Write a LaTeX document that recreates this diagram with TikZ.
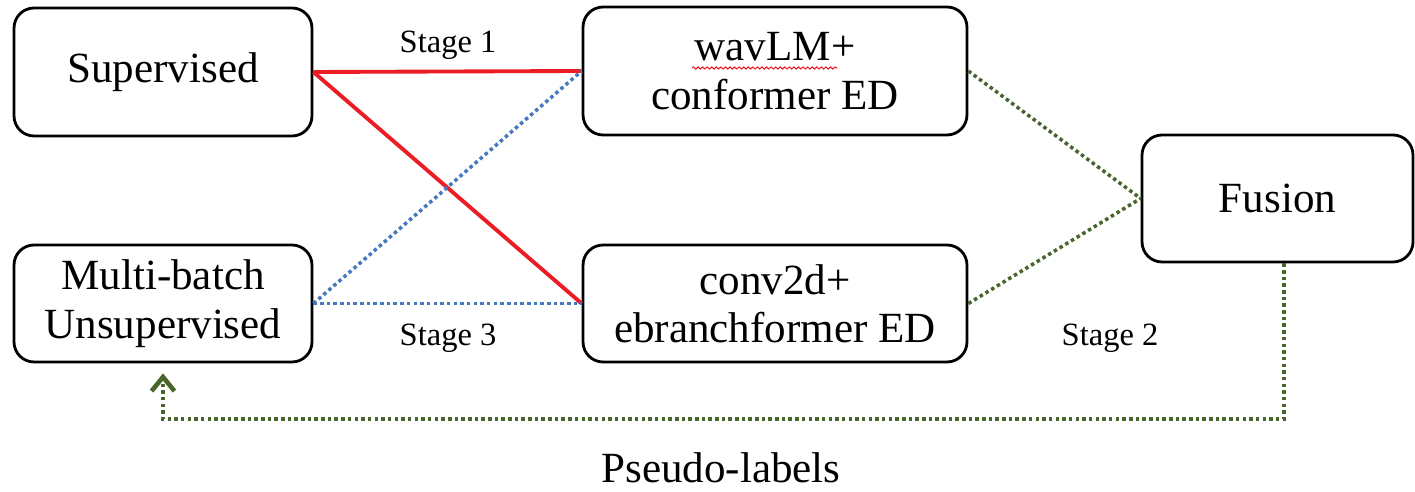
\documentclass[tikz,border=0pt]{standalone}
\usepackage{fontspec}
\setmainfont{Liberation Serif}
\usetikzlibrary{arrows.meta,decorations.pathmorphing}

\definecolor{stagered}{RGB}{236,28,36}
\definecolor{stageblue}{RGB}{68,120,192}
\definecolor{stagegreen}{RGB}{72,102,44}

\tikzset{
  model/.style={draw,line width=1.6pt,rounded corners=0.4cm,align=center,
    inner sep=0pt,font=\fontsize{24.5}{27.5}\selectfont},
  tag/.style={font=\fontsize{18.5}{20}\selectfont},
  dots/.style={line width=2pt,dash pattern=on 2pt off 1.8pt},
  sup/.style={stagered,line width=2.2pt},
  unsup/.style={stageblue,dots},
  fuse/.style={stagegreen,dots},
  spell/.style={stagered,line width=0.6pt,decorate,
    decoration={snake,amplitude=0.6pt,segment length=2.6pt}}
}

\begin{document}
\begin{tikzpicture}[x=0.02cm,y=-0.02cm]
  % page frame, 1 unit = 1 px
  \useasboundingbox (0,0) rectangle (1415,492);

  %% data boxes
  \node[model,minimum width=5.96cm,minimum height=2.56cm] (sup) at (163,72) {Supervised};
  \node[model,minimum width=5.96cm,minimum height=2.34cm] (unsup) at (163,303.5) {Multi-batch\\Unsupervised};

  %% the two models
  \node[model,minimum width=7.68cm,minimum height=2.56cm] (wavlm) at (775,71) {wavLM+\\conformer ED};
  \node[model,minimum width=7.68cm,minimum height=2.34cm] (conv) at (775,303.5) {conv2d+\\ebranchformer ED};
  \draw[spell] (wavlm.center) ++(-83,-3) -- ++(145,0);

  \node[model,minimum width=5.42cm,minimum height=2.54cm] (fusion) at (1277.5,198.5) {Fusion};

  %% stage 1: supervised training
  \draw[sup] (sup.east) -- (wavlm.west);
  \draw[sup] (sup.east) -- (conv.west);
  \node[tag] (s1) at (448,45) {Stage 1};

  %% stage 3: unsupervised training
  \draw[unsup] (unsup.east) -- (wavlm.west);
  \draw[unsup] (unsup.east) -- (conv.west);
  \node[tag] (s3) at (448,338) {Stage 3};

  %% stage 2: fusion and pseudo-labels back
  \draw[fuse] (wavlm.east) -- (fusion.west);
  \draw[fuse] (conv.east) -- (fusion.west);
  \node[tag] (s2) at (1110,338) {Stage 2};
  \coordinate (back) at (1284,419);
  \draw[fuse,-{Straight Barb[length=8pt,width=13pt,line width=2.6pt]},shorten >=10*0.02cm]
    (fusion.south -| back) -- (back) -| (unsup.south);
  \node[font=\fontsize{24.5}{27.5}\selectfont] (pl) at (721,468) {Pseudo-labels};
\end{tikzpicture}
\end{document}
